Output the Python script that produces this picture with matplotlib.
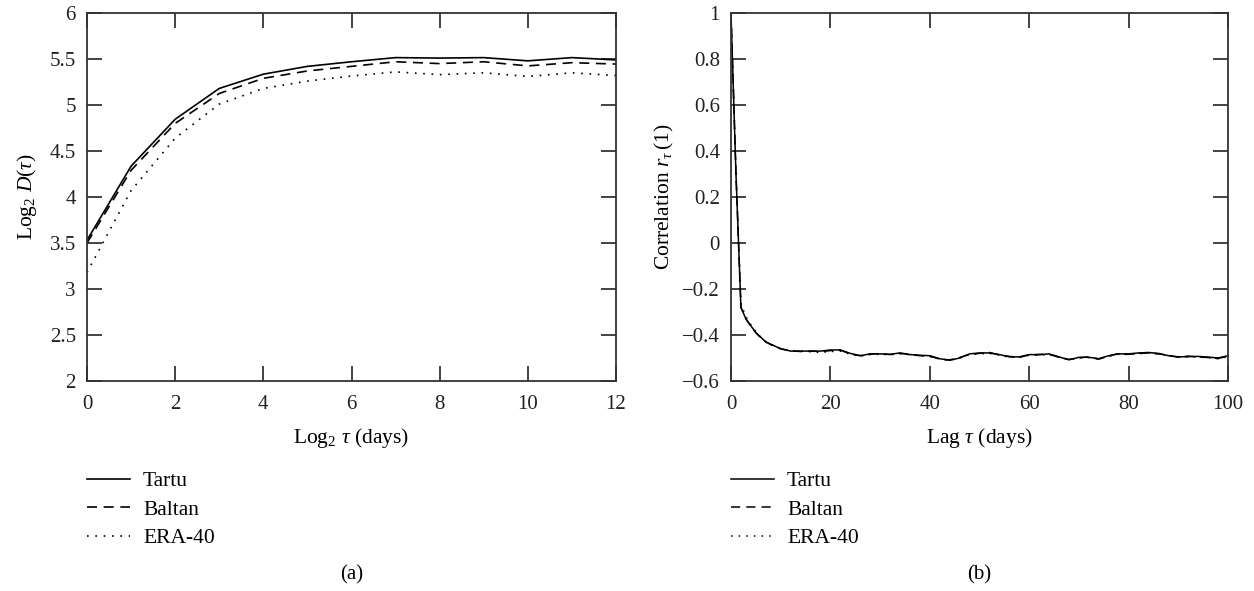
import matplotlib
matplotlib.use("Agg")
import matplotlib.pyplot as plt

plt.rcParams["font.family"] = ["Liberation Serif", "DejaVu Serif"]
plt.rcParams["mathtext.fontset"] = "custom"
plt.rcParams["mathtext.rm"] = "Liberation Serif"
plt.rcParams["mathtext.it"] = "Liberation Serif:italic"

# panel (a): log2 D(tau) against log2 tau
log_tau = [0, 1, 2, 3, 4, 5, 6, 7, 8, 9, 10, 11, 12]
d_tartu = [3.53, 4.335, 4.845, 5.18, 5.335, 5.42, 5.47, 5.515, 5.51, 5.515, 5.48, 5.515, 5.49]
d_baltan = [3.50, 4.29, 4.80, 5.125, 5.29, 5.37, 5.42, 5.47, 5.45, 5.47, 5.425, 5.46, 5.445]
d_era = [3.18, 4.07, 4.64, 5.01, 5.18, 5.26, 5.315, 5.36, 5.33, 5.35, 5.31, 5.35, 5.32]

# panel (b): correlation r_tau(1) against lag
lags = [0, 1, 2, 3, 4, 5, 6, 7, 8, 9, 10, 12, 14, 16, 18, 20, 22, 24, 26, 28,
        30, 32, 34, 36, 38, 40, 42, 44, 46, 48, 50, 52, 54, 56, 58, 60, 62, 64,
        66, 68, 70, 72, 74, 76, 78, 80, 82, 84, 86, 88, 90, 92, 94, 96, 98, 100]
r_tartu = [1.0, 0.30, -0.28, -0.33, -0.36, -0.39, -0.41, -0.43, -0.44, -0.45,
           -0.46, -0.47, -0.47, -0.47, -0.47, -0.465, -0.465, -0.48, -0.49, -0.482,
           -0.482, -0.484, -0.478, -0.485, -0.488, -0.49, -0.503, -0.51, -0.50, -0.482,
           -0.478, -0.478, -0.485, -0.495, -0.495, -0.485, -0.486, -0.482, -0.495, -0.508,
           -0.497, -0.497, -0.503, -0.49, -0.482, -0.482, -0.478, -0.476, -0.48, -0.49,
           -0.495, -0.494, -0.493, -0.496, -0.50, -0.49]
r_baltan = [1.0, 0.30, -0.28, -0.33, -0.362, -0.39, -0.412, -0.43, -0.442, -0.452,
            -0.46, -0.468, -0.472, -0.47, -0.472, -0.468, -0.466, -0.482, -0.49, -0.484,
            -0.48, -0.485, -0.48, -0.484, -0.49, -0.492, -0.505, -0.508, -0.498, -0.484,
            -0.48, -0.476, -0.487, -0.493, -0.497, -0.487, -0.484, -0.484, -0.497, -0.506,
            -0.499, -0.495, -0.505, -0.492, -0.48, -0.484, -0.48, -0.478, -0.482, -0.488,
            -0.497, -0.492, -0.495, -0.498, -0.502, -0.492]
r_era = [1.0, 0.31, -0.265, -0.32, -0.355, -0.385, -0.41, -0.428, -0.44, -0.45,
         -0.458, -0.468, -0.47, -0.473, -0.476, -0.472, -0.47, -0.484, -0.492, -0.485,
         -0.484, -0.486, -0.482, -0.486, -0.49, -0.494, -0.504, -0.51, -0.5, -0.485,
         -0.482, -0.48, -0.488, -0.496, -0.497, -0.488, -0.487, -0.485, -0.497, -0.508,
         -0.5, -0.498, -0.505, -0.492, -0.484, -0.485, -0.481, -0.479, -0.483, -0.49,
         -0.497, -0.495, -0.496, -0.499, -0.503, -0.495]

names = ["Tartu", "Baltan", "ERA-40"]
styles = ["-", (0, (6, 4)), (0, (1, 4))]

W, H = 1254, 591
fig = plt.figure(figsize=(W / 100, H / 100), dpi=100)


def px_axes(x0, x1, y0, y1):
    return fig.add_axes([x0 / W, 1 - y1 / H, (x1 - x0) / W, (y1 - y0) / H])


def style_axes(ax):
    for s in ax.spines.values():
        s.set_linewidth(1.3)
        s.set_color("#333333")
    ax.tick_params(direction="in", length=11, width=1.2, top=True, right=True,
                   labelsize=15, colors="#222222")
    ax.tick_params(axis="x", pad=10)
    ax.tick_params(axis="y", pad=8)


ax1 = px_axes(87, 616, 13, 381)
ax2 = px_axes(731, 1228, 13, 381)

series_a = [d_tartu, d_baltan, d_era]
for vals, ls, name in zip(series_a, styles, names):
    ax1.plot(log_tau, vals, color="black", lw=1.2, linestyle=ls, label=name)
ax1.set_xlim(0, 12)
ax1.set_ylim(2, 6)
ax1.set_xticks([0, 2, 4, 6, 8, 10, 12])
ax1.set_yticks([2, 2.5, 3, 3.5, 4, 4.5, 5, 5.5, 6])
ax1.set_yticklabels(["2", "2.5", "3", "3.5", "4", "4.5", "5", "5.5", "6"])
ax1.set_xlabel(r"Log$_2$ $\tau$ (days)", fontsize=15.5, labelpad=9)
ax1.set_ylabel(r"Log$_2$ $D(\tau)$", fontsize=15.5, labelpad=8)
style_axes(ax1)

series_b = [r_tartu, r_baltan, r_era]
for vals, ls, name in zip(series_b, styles, names):
    ax2.plot(lags, vals, color="black", lw=1.1, linestyle=ls, label=name)
ax2.set_xlim(0, 100)
ax2.set_ylim(-0.6, 1)
ax2.set_xticks([0, 20, 40, 60, 80, 100])
ax2.set_yticks([-0.6, -0.4, -0.2, 0, 0.2, 0.4, 0.6, 0.8, 1])
ax2.set_yticklabels(["\u22120.6", "\u22120.4", "\u22120.2", "0", "0.2", "0.4", "0.6", "0.8", "1"])
ax2.set_xlabel(r"Lag $\tau$ (days)", fontsize=15.5, labelpad=9)
ax2.set_ylabel(r"Correlation $r_\tau\,(1)$", fontsize=15.5, labelpad=4)
style_axes(ax2)

for ax, x0 in [(ax1, 87), (ax2, 731)]:
    h, l = ax.get_legend_handles_labels()
    fig.legend(h, l, loc="upper left", bbox_to_anchor=(x0 / W, 1 - 471 / H),
               frameon=False, fontsize=15.5, handlelength=2.0, handletextpad=0.6,
               labelspacing=0.4, borderpad=0, borderaxespad=0)

fig.text((87 + 616) / 2 / W, 1 - 575 / H, "(a)", ha="center", va="center", fontsize=15)
fig.text((731 + 1228) / 2 / W, 1 - 575 / H, "(b)", ha="center", va="center", fontsize=15)

fig.savefig("out.png", dpi=100)
